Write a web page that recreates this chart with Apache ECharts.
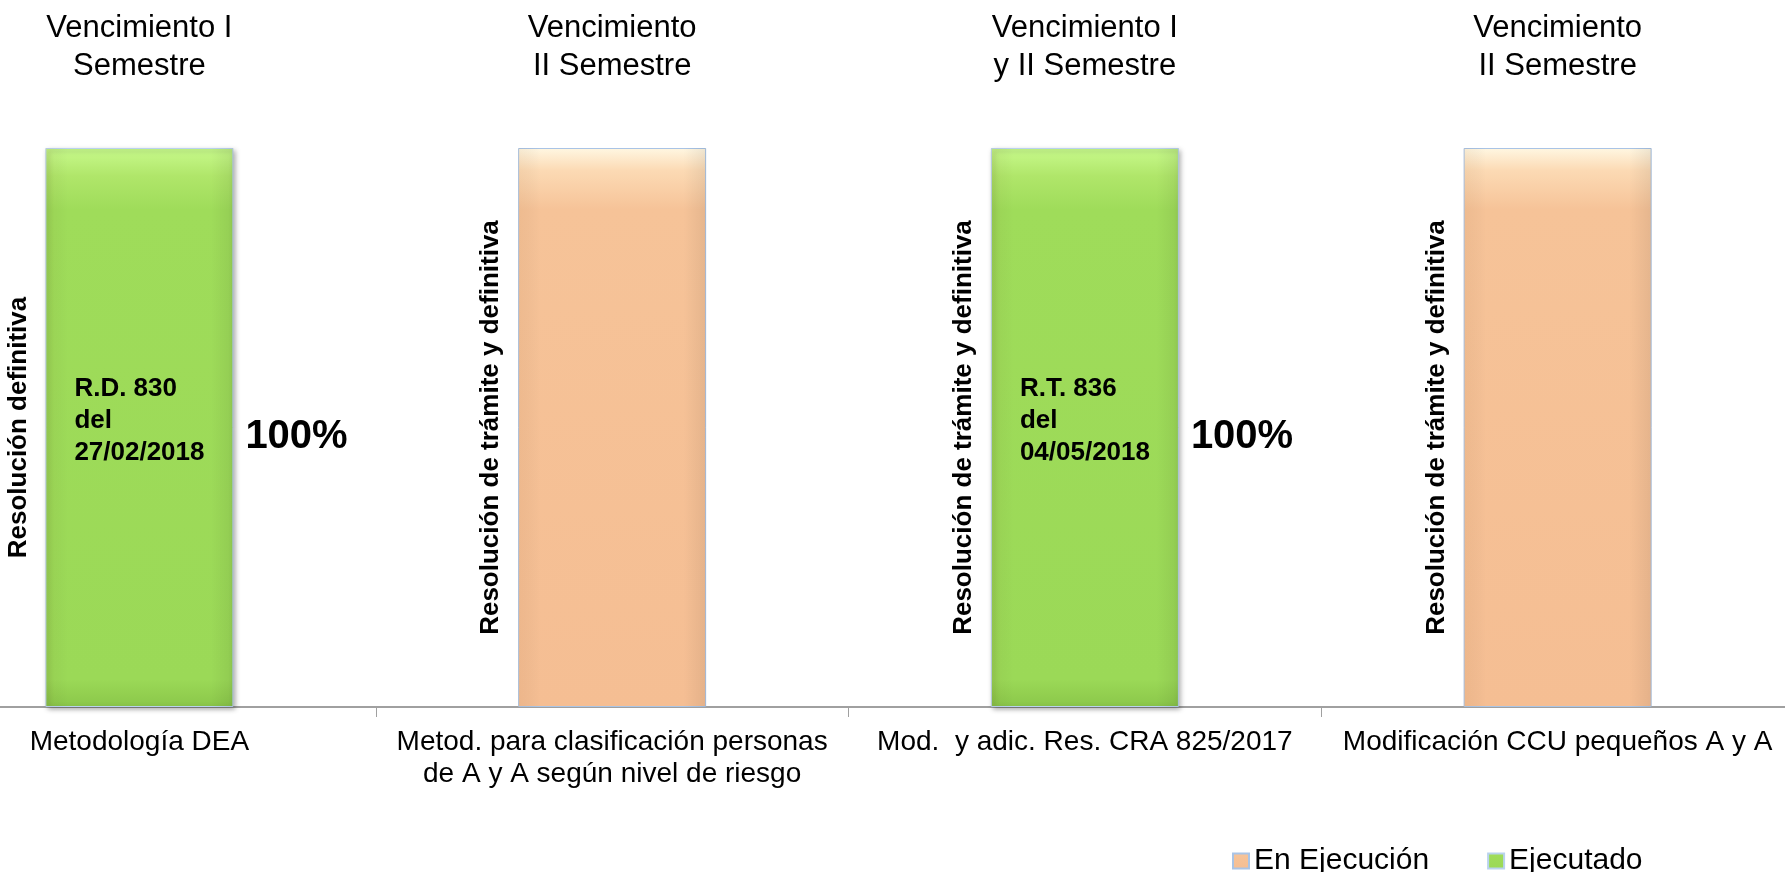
<!DOCTYPE html>
<html>
<head>
<meta charset="utf-8">
<script src="https://cdn.jsdelivr.net/npm/echarts@6/dist/echarts.min.js"></script>
<style>
html,body{margin:0;padding:0;background:#fff;}
#chart{width:1785px;height:872px;}
</style>
</head>
<body>
<div id="chart"></div>
<script>
// ---- data ----
const categories = [
  'Metodología DEA',
  'Metod. para clasificación personas\nde A y A según nivel de riesgo',
  'Mod.  y adic. Res. CRA 825/2017',
  'Modificación CCU pequeños A y A'
];
const deadlines = [
  'Vencimiento I\nSemestre',
  'Vencimiento\nII Semestre',
  'Vencimiento I\ny II Semestre',
  'Vencimiento\nII Semestre'
];
const enEjecucion = [null, 100, null, 100];
const ejecutado = [100, null, 100, null];
const resolucion = [
  'Resolución definitiva',
  'Resolución de trámite y definitiva',
  'Resolución de trámite y definitiva',
  'Resolución de trámite y definitiva'
];
const actos = ['R.D. 830\ndel\n27/02/2018', '', 'R.T. 836\ndel\n04/05/2018', ''];
const avance = ['100%', '', '100%', ''];

// ---- chart ----
const FONT = '"Liberation Sans", Arial, sans-serif';
const total = enEjecucion.map((v, i) => (v != null ? v : ejecutado[i]));
const chart = echarts.init(document.getElementById('chart'), null, {renderer: 'canvas'});

const greenFill = new echarts.graphic.LinearGradient(0, 0, 0, 1, [
  {offset: 0, color: '#c8fa8c'},
  {offset: 0.05, color: '#b0e66a'},
  {offset: 0.11, color: '#9fdc5a'},
  {offset: 0.95, color: '#9bd957'},
  {offset: 1, color: '#8bc74a'}
]);
const orangeFill = new echarts.graphic.LinearGradient(0, 0, 0, 1, [
  {offset: 0, color: '#fff7e2'},
  {offset: 0.04, color: '#fcdab4'},
  {offset: 0.11, color: '#f6c398'},
  {offset: 1, color: '#f5be93'}
]);
const edgeShade = new echarts.graphic.LinearGradient(0, 0, 1, 0, [
  {offset: 0, color: 'rgba(120,60,0,0.06)'},
  {offset: 0.12, color: 'rgba(0,0,0,0)'},
  {offset: 0.88, color: 'rgba(0,0,0,0)'},
  {offset: 1, color: 'rgba(0,0,0,0.07)'}
]);

const BW = 188;
const option = {
  animation: false,
  backgroundColor: '#fff',
  textStyle: {fontFamily: FONT},
  grid: {left: -97, right: -9, top: 148, bottom: 165, containLabel: false, outerBoundsMode: 'none'},
  legend: {
    data: ['En Ejecución', 'Ejecutado'],
    left: 1227, top: 840,
    icon: 'rect', itemWidth: 16, itemHeight: 15, itemGap: 58,
    textStyle: {fontSize: 30, color: '#000', fontFamily: FONT, lineHeight: 32}
  },
  xAxis: [
    {
      type: 'category', data: categories, position: 'bottom',
      axisLine: {show: true, lineStyle: {color: '#a0a0a0', width: 2}},
      axisTick: {show: true, length: 10, lineStyle: {color: '#a0a0a0', width: 1}},
      axisLabel: {interval: 0, margin: 19, fontSize: 28, lineHeight: 32, color: '#000', fontFamily: FONT}
    },
    {
      type: 'category', data: deadlines, position: 'top',
      axisLine: {show: false}, axisTick: {show: false},
      axisLabel: {interval: 0, margin: 63, fontSize: 31, lineHeight: 38, color: '#000', fontFamily: FONT}
    }
  ],
  yAxis: {type: 'value', min: 0, max: 100, show: false},
  series: [
    {
      name: 'En Ejecución', type: 'bar', stack: 'estado', data: enEjecucion,
      barWidth: BW, barGap: '-100%',
      itemStyle: {color: orangeFill, borderColor: '#a9c4e6', borderWidth: 1}
    },
    {
      name: 'Ejecutado', type: 'bar', stack: 'estado', data: ejecutado,
      barWidth: BW, barGap: '-100%',
      itemStyle: {color: greenFill, borderColor: '#b9d3ee', borderWidth: 1,
        shadowColor: 'rgba(0,0,0,0.35)', shadowBlur: 5, shadowOffsetX: 2, shadowOffsetY: 2},
      label: {
        show: true, position: 'insideLeft', distance: 29, offset: [0, -7],
        formatter: p => actos[p.dataIndex],
        fontSize: 26, fontWeight: 'bold', lineHeight: 32, color: '#000', fontFamily: FONT, align: 'left'
      }
    },
    {
      name: 'resolucion', type: 'bar', stack: 'resol', data: total,
      barWidth: BW, barGap: '-100%', silent: true,
      itemStyle: {color: edgeShade},
      label: {
        show: true, position: 'left', distance: 14, rotate: 90,
        align: 'center', verticalAlign: 'bottom',
        formatter: p => resolucion[p.dataIndex],
        fontSize: 26, fontWeight: 'bold', color: '#000', fontFamily: FONT
      }
    },
    {
      name: 'avance', type: 'bar', stack: 'avance', data: ejecutado,
      barWidth: BW, barGap: '-100%', silent: true,
      itemStyle: {color: 'rgba(0,0,0,0)'},
      label: {
        show: true, position: 'right', distance: 12, offset: [0, 9],
        formatter: p => avance[p.dataIndex],
        fontSize: 40, fontWeight: 'bold', color: '#000', fontFamily: FONT
      }
    }
  ]
};
chart.setOption(option);
</script>
</body>
</html>
